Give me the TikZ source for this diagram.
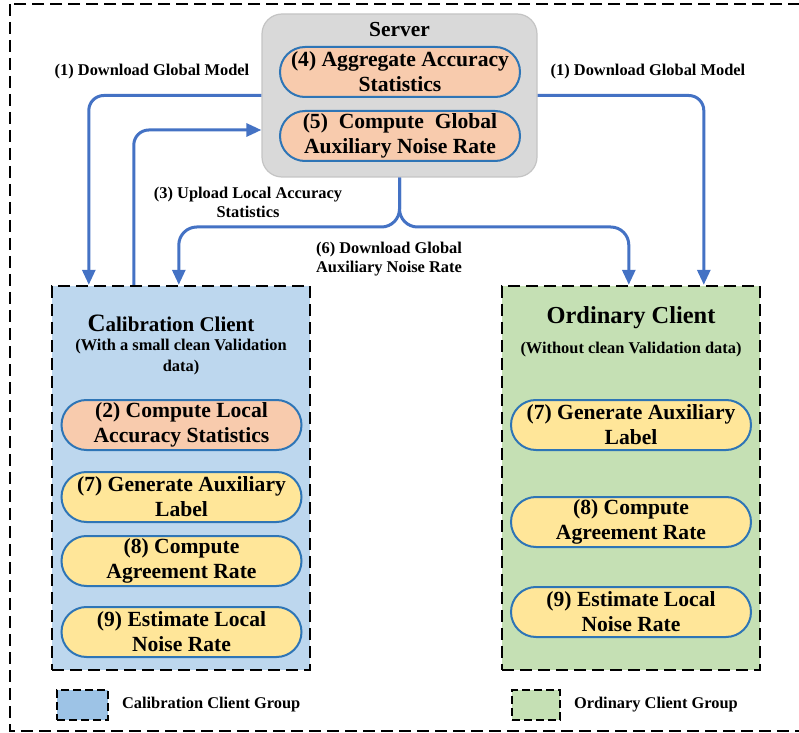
\documentclass[tikz,border=0pt]{standalone}
\usepackage{fontspec}
\setmainfont{Liberation Serif}
\usetikzlibrary{arrows.meta,calc,positioning}
\definecolor{arrowblue}{HTML}{4472C4}
\definecolor{taskedge}{HTML}{2E75B6}
\definecolor{peachfill}{HTML}{F8CBAD}
\definecolor{yellowfill}{HTML}{FFE699}
\definecolor{calfill}{HTML}{BDD7EE}
\definecolor{ordfill}{HTML}{C5E0B4}
\definecolor{legblue}{HTML}{9DC3E6}
\definecolor{srvfill}{HTML}{D9D9D9}
\definecolor{srvedge}{HTML}{C4C4C4}

\begin{document}
\begin{tikzpicture}[x=0.5pt,y=-0.5pt,
  task/.style={draw=taskedge,line width=1pt,rounded corners=12.5pt,minimum width=120pt,minimum height=25pt,
    align=center,inner sep=0pt,font=\fontsize{10.8}{12.5}\selectfont\bfseries},
  peachtask/.style={task,fill=peachfill},
  yellowtask/.style={task,fill=yellowfill},
  group/.style={draw=black,line width=1.2pt,dash pattern=on 6pt off 3pt,minimum width=129pt,minimum height=192pt},
  flow/.style={draw=arrowblue,line width=1.5pt,rounded corners=7.5pt,-{Triangle[width=6.5pt,length=7.5pt]}},
  lab/.style={font=\fontsize{8.2}{9.5}\selectfont\bfseries,align=center}]
  \useasboundingbox(0,0)rectangle(799,733);
  \draw[line width=1pt,dash pattern=on 6pt off 3pt](10,4)rectangle(812,731);
  \node[fill=srvfill,draw=srvedge,line width=0.6pt,rounded corners=10pt,minimum width=137.5pt,minimum height=81.5pt](srv)at(399.5,95.5){};
  \node[font=\fontsize{10.7}{12}\selectfont\bfseries](srvtitle)at(399.5,30){Server};
  \node[peachtask](agg)at(400,72){(4) Aggregate Accuracy\\Statistics};
  \node[peachtask](glob)at(400,136){(5)\ \ Compute\ \ Global\\Auxiliary Noise Rate};
  \node[group,fill=calfill](cal)at(181,478){};
  \node[group,fill=ordfill](ord)at(631,478){};
  \node[font=\fontsize{10.5}{12}\selectfont\bfseries](caltitle)at(171,323){{\fontsize{12.5}{12}\selectfont C}alibration Client};
  \node[lab,font=\fontsize{8.2}{10.5}\selectfont\bfseries](calsub)at(181,357.5){(With a small clean Validation\\data)};
  \node[font=\fontsize{12.2}{13}\selectfont\bfseries](ordtitle)at(631,318){Ordinary Client};
  \node[lab](ordsub)at(631,350){(Without clean Validation data)};
  \node[peachtask](calacc)at(181.5,425){(2) Compute Local\\Accuracy Statistics};
  \node[yellowtask](calgen)at(181.5,497){(7) Generate Auxiliary\\Label};
  \node[yellowtask](calagr)at(181.5,561){(8) Compute\\Agreement Rate};
  \node[yellowtask](calest)at(181.5,632){(9) Estimate Local\\Noise Rate};
  \node[yellowtask](ordgen)at(631,425){(7) Generate Auxiliary\\Label};
  \node[yellowtask](ordagr)at(631,522){(8) Compute\\Agreement Rate};
  \node[yellowtask](ordest)at(631,612){(9) Estimate Local\\Noise Rate};
  \draw[flow](srv.west)-|($(cal.north west)+(38,0)$);
  \draw[flow]($(cal.north west)+(83,0)$)|-($(srv.west)+(0,34.5)$);
  \draw[flow](srv.east)-|($(ord.north west)+(203,0)$);
  \draw[flow,rounded corners=9pt](srv.south)--(399.5,227)-|($(cal.north west)+(128,0)$);
  \draw[flow,rounded corners=9pt](srv.south)--(399.5,227)-|($(ord.north west)+(128,0)$);
  \node[lab](dlleft)at(152,72){(1) Download Global Model};
  \node[lab](dlright)at(648,72){(1) Download Global Model};
  \node[lab](upload)at(248,202){(3) Upload Local Accuracy\\Statistics};
  \node[lab](dlnoise)at(389,259){(6) Download Global\\Auxiliary Noise Rate};
  \node[draw=black,fill=legblue,line width=1pt,dash pattern=on 4pt off 2pt,minimum width=25.5pt,minimum height=15pt](legcal)at(82.5,705){};
  \node[lab,right=3pt of legcal](legcaltext){Calibration Client Group};
  \node[draw=black,fill=ordfill,line width=1pt,dash pattern=on 4pt off 2pt,minimum width=24pt,minimum height=15pt](legord)at(536,705){};
  \node[lab,right=3pt of legord](legordtext){Ordinary Client Group};
\end{tikzpicture}
\end{document}
